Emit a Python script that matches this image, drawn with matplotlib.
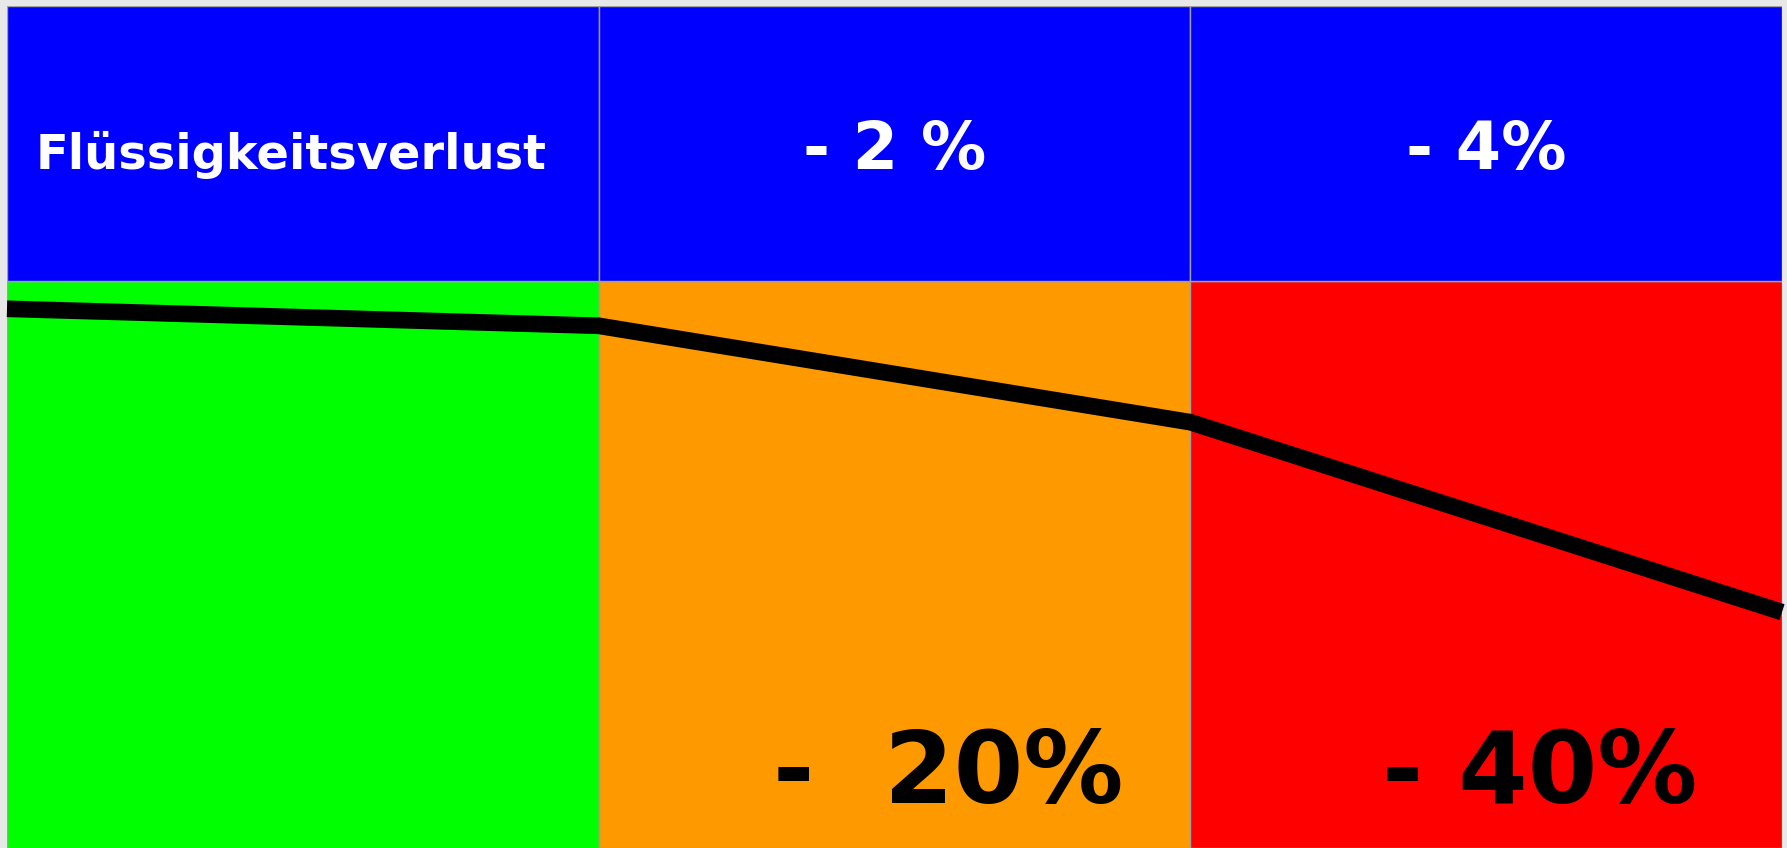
import matplotlib
matplotlib.use("Agg")
import matplotlib.pyplot as plt

# columns of the table
spalten = ["Flüssigkeitsverlust", "- 2 %", "- 4%"]
spalten_farben = ["#00ff00", "#ff9900", "#ff0000"]
# performance labels in the lower part
leistung_labels = ["", "-  20%", "- 40%"]
# black performance line, read at the column edges (0 = bottom, 100 = top of body)
linie_x = [0, 1, 2, 3]
linie_y = [95.1, 92.1, 75.1, 41.6]

KOPF_HOEHE = 48.5

fig = plt.figure(figsize=(17.87, 8.48), dpi=100, facecolor="#e8e8e8")
ax = fig.add_axes([7 / 1787, 0, 1775 / 1787, 842 / 848])
ax.set_xlim(0, 3)
ax.set_ylim(0, 100 + KOPF_HOEHE)
ax.axis("off")

pos = range(len(spalten))
# body cells
ax.bar(pos, 100, width=1, align="edge", color=spalten_farben,
       edgecolor="#a0a0a0", linewidth=1)
# header cells
ax.bar(pos, KOPF_HOEHE, bottom=100, width=1, align="edge", color="#0000ff",
       edgecolor="#a0a0a0", linewidth=1)

# header texts
for i, txt in enumerate(spalten):
    size = 34.5 if i == 0 else 47
    x = 0.48 if i == 0 else i + 0.5
    ax.text(x, 119.7, txt, color="white", fontsize=size,
            fontweight="bold", ha="center", va="baseline",
            family=["DejaVu Sans"])

# line
ax.plot(linie_x, linie_y, color="black", linewidth=12,
        solid_capstyle="butt", solid_joinstyle="miter", clip_on=False)

# performance loss labels
for i, txt in enumerate(leistung_labels):
    if not txt:
        continue
    ax.text(i + 0.59, 7.9, txt, color="black", fontsize=72, fontweight="bold",
            ha="center", va="baseline", family=["DejaVu Sans"])

fig.savefig("out.png", dpi=100, facecolor=fig.get_facecolor())
